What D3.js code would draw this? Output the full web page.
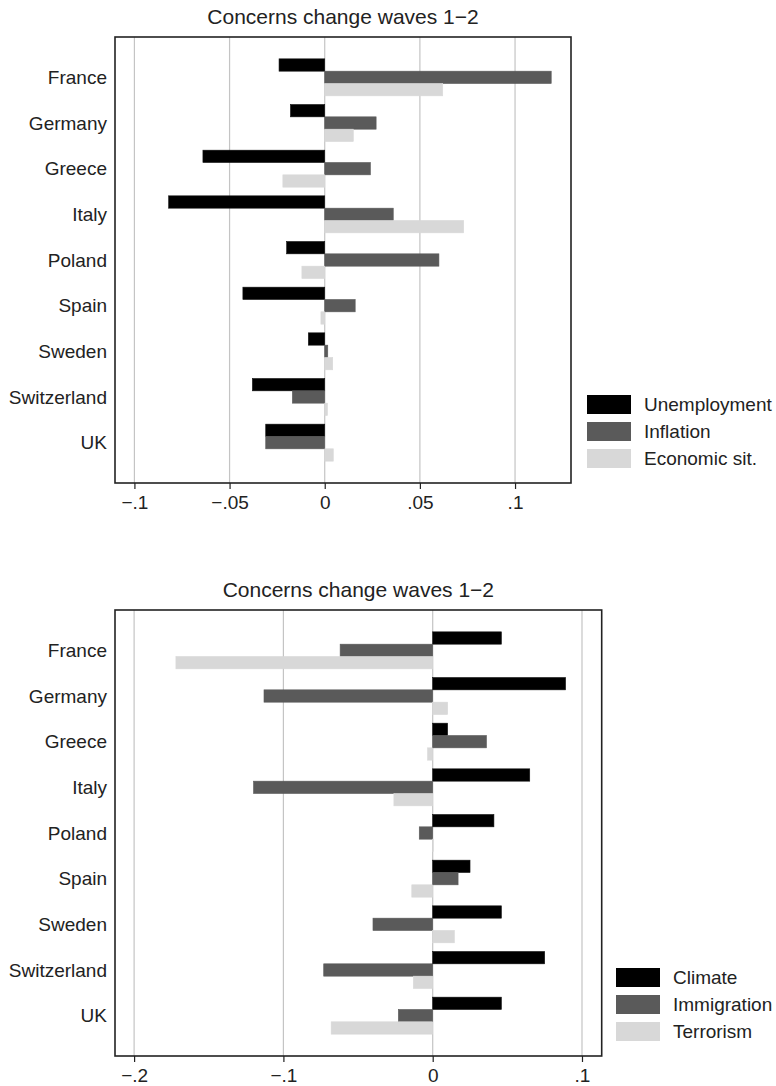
<!DOCTYPE html>
<html>
<head>
<meta charset="utf-8">
<script src="https://cdn.jsdelivr.net/npm/d3@7"></script>
<style>
  body { margin: 0; background: #fff; }
  svg { font-family: "Liberation Sans", Arial, sans-serif; }
</style>
</head>
<body>
<div id="chart"></div>
<script>
var countries = ["France", "Germany", "Greece", "Italy", "Poland", "Spain", "Sweden", "Switzerland", "UK"];

// top panel: economy concerns
var econSeries = ["Unemployment", "Inflation", "Economic sit."];
var unemployment = [-0.024, -0.018, -0.064, -0.082, -0.020, -0.043, -0.0086, -0.038, -0.031];
var inflation    = [0.119, 0.027, 0.024, 0.036, 0.060, 0.016, 0.0016, -0.017, -0.031];
var economicSit  = [0.062, 0.015, -0.022, 0.073, -0.012, -0.002, 0.0042, 0.0014, 0.0045];
var econTicks = [-0.1, -0.05, 0, 0.05, 0.1];
var econTickLabels = ["\u2212.1", "\u2212.05", "0", ".05", ".1"];

// bottom panel: other concerns
var otherSeries = ["Climate", "Immigration", "Terrorism"];
var climate     = [0.046, 0.089, 0.010, 0.065, 0.041, 0.025, 0.046, 0.075, 0.046];
var immigration = [-0.062, -0.113, 0.036, -0.120, -0.009, 0.017, -0.040, -0.073, -0.023];
var terrorism   = [-0.172, 0.010, -0.0034, -0.026, 0.0004, -0.014, 0.0145, -0.013, -0.068];
var otherTicks = [-0.2, -0.1, 0, 0.1];
var otherTickLabels = ["\u2212.2", "\u2212.1", "0", ".1"];

var colors = ["#000000", "#5a5a5a", "#d8d8d8"];

var W = 776, H = 1086;
var svg = d3.select("#chart").append("svg")
    .attr("width", W)
    .attr("height", H);

function drawPanel(opts) {
    var g = svg.append("g");
    var left = opts.left, right = opts.right, top = opts.top, bottom = opts.bottom;

    var x = d3.scaleLinear().domain(opts.domain).range([left, right]);
    var y = d3.scaleBand().domain(countries).range([top, bottom])
        .paddingInner(0.19).paddingOuter(0.4785);
    var ySub = d3.scaleBand().domain(d3.range(opts.series.length)).range([0, y.bandwidth()]);

    // title
    g.append("text")
        .attr("x", (left + right) / 2)
        .attr("y", opts.titleY)
        .attr("text-anchor", "middle")
        .attr("font-size", 21)
        .attr("fill", "#222")
        .text("Concerns change waves 1\u22122");

    // grid lines
    g.selectAll(".grid").data(opts.ticks)
        .enter().append("line")
        .attr("x1", function(d) { return x(d); })
        .attr("x2", function(d) { return x(d); })
        .attr("y1", top)
        .attr("y2", bottom)
        .attr("stroke", "#c4c4c4")
        .attr("stroke-width", 1.2);

    // bars
    opts.values.forEach(function(vals, si) {
        g.selectAll(".bar" + si).data(vals)
            .enter().append("rect")
            .attr("x", function(d) { return x(Math.min(0, d)); })
            .attr("width", function(d) { return Math.abs(x(d) - x(0)); })
            .attr("y", function(d, i) { return y(countries[i]) + ySub(si); })
            .attr("height", ySub.bandwidth())
            .attr("fill", colors[si])
            .attr("stroke", si == 0 ? "#111" : colors[si])
            .attr("stroke-width", 0.6);
    });

    // plot frame
    g.append("rect")
        .attr("x", left).attr("y", top)
        .attr("width", right - left).attr("height", bottom - top)
        .attr("fill", "none")
        .attr("stroke", "#222")
        .attr("stroke-width", 1.6);

    // x axis
    var xAxis = d3.axisBottom(x)
        .tickValues(opts.ticks)
        .tickSize(6)
        .tickPadding(7)
        .tickFormat(function(d, i) { return opts.tickLabels[i]; });
    var ax = g.append("g")
        .attr("transform", "translate(0," + bottom + ")")
        .call(xAxis);
    ax.select(".domain").remove();
    ax.selectAll(".tick line").attr("stroke", "#222").attr("stroke-width", 1.2);
    ax.selectAll(".tick text")
        .attr("font-size", 19)
        .attr("font-family", "Liberation Sans, Arial, sans-serif")
        .attr("fill", "#222");

    // y labels
    g.selectAll(".ylab").data(countries)
        .enter().append("text")
        .attr("x", left - 8)
        .attr("y", function(d) { return y(d) + y.bandwidth() / 2; })
        .attr("dy", "0.35em")
        .attr("text-anchor", "end")
        .attr("font-size", 19)
        .attr("fill", "#222")
        .text(function(d) { return d; });

    // legend
    var leg = g.append("g");
    opts.series.forEach(function(name, i) {
        var yy = opts.legendTop + i * 27;
        leg.append("rect")
            .attr("x", opts.legendX)
            .attr("y", yy)
            .attr("width", 44)
            .attr("height", 19)
            .attr("fill", colors[i]);
        leg.append("text")
            .attr("x", opts.legendX + 57)
            .attr("y", yy + 9.5)
            .attr("dy", "0.35em")
            .attr("font-size", 19)
            .attr("fill", "#222")
            .text(name);
    });
}

drawPanel({
    left: 115, right: 571, top: 37, bottom: 483,
    domain: [-0.1102, 0.1294],
    ticks: econTicks, tickLabels: econTickLabels,
    series: econSeries,
    values: [unemployment, inflation, economicSit],
    titleY: 24,
    legendX: 587, legendTop: 395
});

drawPanel({
    left: 115, right: 601.7, top: 610, bottom: 1056,
    domain: [-0.2128, 0.1132],
    ticks: otherTicks, tickLabels: otherTickLabels,
    series: otherSeries,
    values: [climate, immigration, terrorism],
    titleY: 597,
    legendX: 616, legendTop: 968
});
</script>
</body>
</html>
